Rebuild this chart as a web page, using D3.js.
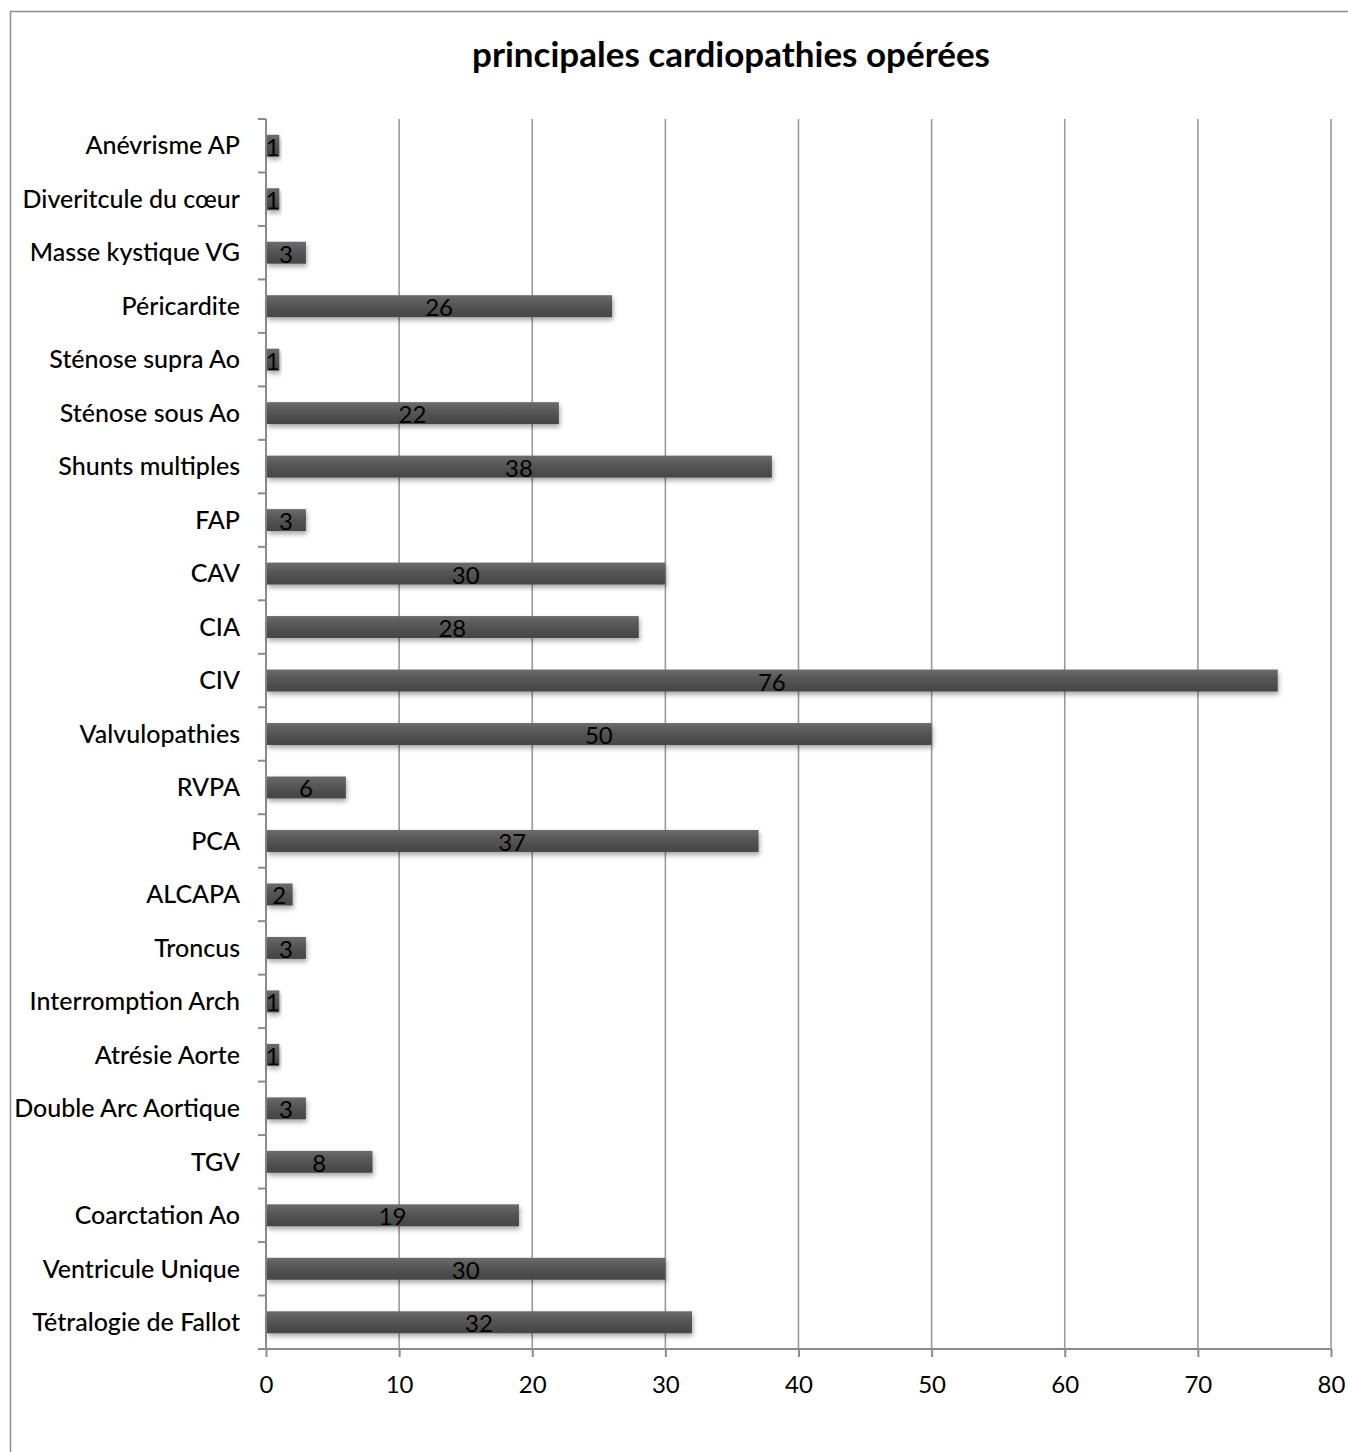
<!DOCTYPE html>
<html>
<head>
<meta charset="utf-8">
<script src="https://cdn.jsdelivr.net/npm/d3@7"></script>
<style>
  body { margin: 0; background: #fff; }
  text { font-family: Lato, "Open Sans", sans-serif; fill: #000; }
</style>
</head>
<body>
<svg id="chart"></svg>
<script>
  // categories listed top to bottom
  var categories = [
    "Anévrisme AP", "Diveritcule du cœur", "Masse kystique VG", "Péricardite",
    "Sténose supra Ao", "Sténose sous Ao", "Shunts multiples", "FAP", "CAV",
    "CIA", "CIV", "Valvulopathies", "RVPA", "PCA", "ALCAPA", "Troncus",
    "Interromption Arch", "Atrésie Aorte", "Double Arc Aortique", "TGV",
    "Coarctation Ao", "Ventricule Unique", "Tétralogie de Fallot"
  ];
  var values = [1, 1, 3, 26, 1, 22, 38, 3, 30, 28, 76, 50, 6, 37, 2, 3, 1, 1, 3, 8, 19, 30, 32];
  var xTicks = [0, 10, 20, 30, 40, 50, 60, 70, 80];
  var title = "principales cardiopathies opérées";

  var width = 1348, height = 1452;
  var margin = { top: 119, right: 17, bottom: 103, left: 266 };
  var innerW = width - margin.left - margin.right;
  var innerH = height - margin.top - margin.bottom;

  var svg = d3.select("#chart")
    .attr("width", width)
    .attr("height", height);

  var defs = svg.append("defs");
  var grad = defs.append("linearGradient")
    .attr("id", "barGrad")
    .attr("x1", 0).attr("y1", 0).attr("x2", 0).attr("y2", 1);
  grad.append("stop").attr("offset", "0%").attr("stop-color", "#6b6b6b");
  grad.append("stop").attr("offset", "45%").attr("stop-color", "#555");
  grad.append("stop").attr("offset", "100%").attr("stop-color", "#454545");
  var shadow = defs.append("filter")
    .attr("id", "shadow")
    .attr("x", "-10%").attr("y", "-30%").attr("width", "130%").attr("height", "190%");
  shadow.append("feDropShadow")
    .attr("dx", 1).attr("dy", 3).attr("stdDeviation", 2.5)
    .attr("flood-color", "#000").attr("flood-opacity", 0.35);

  // outer frame (runs off the right and bottom edges)
  svg.append("rect")
    .attr("x", 10.5).attr("y", 11.5)
    .attr("width", width + 20).attr("height", height + 20)
    .attr("fill", "none")
    .attr("stroke", "#8c8c8c")
    .attr("stroke-width", 1.5);

  svg.append("text")
    .attr("x", 731)
    .attr("y", 67)
    .attr("text-anchor", "middle")
    .style("font-size", "35px")
    .style("font-weight", "bold")
    .text(title);

  var x = d3.scaleLinear()
    .domain([0, 80])
    .range([0, 1065]);
  var y = d3.scaleBand()
    .domain(categories)
    .range([0, innerH])
    .paddingInner(0.59)
    .paddingOuter(0.295);

  var g = svg.append("g")
    .attr("transform", `translate(${margin.left}, ${margin.top})`);

  // gridlines
  g.selectAll(".grid")
    .data(xTicks.slice(1))
    .enter()
    .append("line")
    .attr("class", "grid")
    .attr("x1", d => x(d)).attr("x2", d => x(d))
    .attr("y1", 0).attr("y2", innerH)
    .attr("stroke", "#9a9a9a")
    .attr("stroke-width", 1.6);

  // bottom axis
  var xAxis = g.append("g")
    .attr("transform", `translate(0, ${innerH})`)
    .call(d3.axisBottom(x).tickValues(xTicks).tickSize(8).tickPadding(19));
  xAxis.selectAll("path, line").attr("stroke", "#8c8c8c").attr("stroke-width", 2);
  xAxis.select(".domain").attr("d", `M0,0H${x(80)}`);
  xAxis.selectAll("text")
    .style("font-size", "24px")
    .style("font-family", "Lato, sans-serif");

  // left axis with ticks between bands
  var bounds = d3.range(categories.length + 1).map(i => i * innerH / categories.length);
  g.append("line")
    .attr("x1", 0).attr("x2", 0)
    .attr("y1", 0).attr("y2", innerH)
    .attr("stroke", "#8c8c8c").attr("stroke-width", 2);
  g.selectAll(".ytick")
    .data(bounds)
    .enter()
    .append("line")
    .attr("x1", -8).attr("x2", 0)
    .attr("y1", d => d).attr("y2", d => d)
    .attr("stroke", "#8c8c8c").attr("stroke-width", 2);

  g.selectAll(".ylabel")
    .data(categories)
    .enter()
    .append("text")
    .attr("x", -26)
    .attr("y", d => y(d) + y.bandwidth() / 2)
    .attr("dy", "0.35em")
    .attr("text-anchor", "end")
    .style("font-size", "25px")
    .style("font-weight", 500)
    .text(d => d);

  // bars
  var data = categories.map((c, i) => ({ name: c, value: values[i] }));
  g.selectAll(".bar")
    .data(data)
    .enter()
    .append("rect")
    .attr("class", "bar")
    .attr("x", 1)
    .attr("y", d => y(d.name))
    .attr("width", d => x(d.value) - 1)
    .attr("height", y.bandwidth())
    .attr("fill", "url(#barGrad)")
    .attr("filter", "url(#shadow)");

  g.selectAll(".vlabel")
    .data(data)
    .enter()
    .append("text")
    .attr("x", d => x(d.value) / 2)
    .attr("y", d => y(d.name) + y.bandwidth() / 2 + 10)
    .attr("text-anchor", "middle")
    .style("font-size", "24px")
    .text(d => d.value);
</script>
</body>
</html>
